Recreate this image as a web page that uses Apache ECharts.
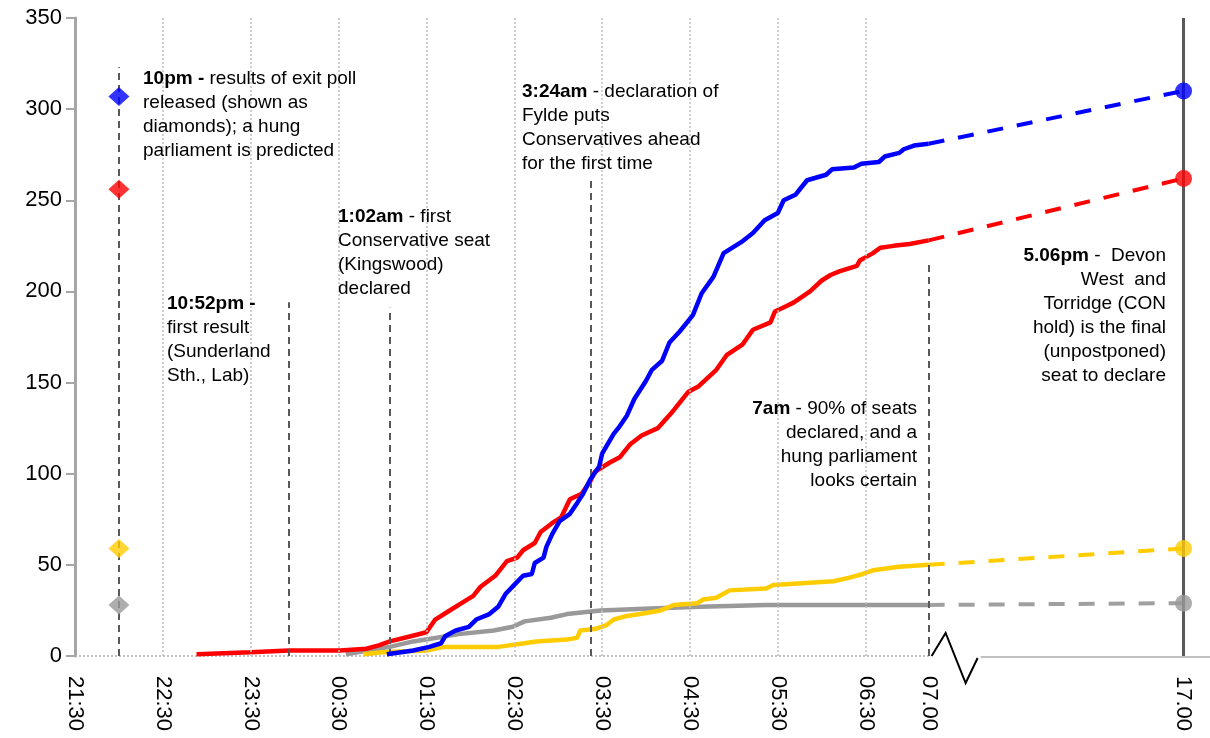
<!DOCTYPE html>
<html>
<head>
<meta charset="utf-8">
<script src="https://cdn.jsdelivr.net/npm/echarts@6/dist/echarts.min.js"></script>
<style>
  html, body { margin: 0; padding: 0; background: #fff; }
  #main { width: 1210px; height: 738px; }
</style>
</head>
<body>
<div id="main"></div>
<script>
// cumulative seats declared on election night
const conTimes = ['01:03','01:21','01:32','01:40','01:43','01:50','01:59','02:04','02:13','02:19','02:24','02:30','02:36','02:42','02:44','02:50','02:52','02:56','03:01','03:08','03:13','03:17','03:22','03:28','03:30','03:38','03:42','03:47','03:52','04:00','04:04','04:11','04:16','04:23','04:32','04:38','04:46','04:53','05:05','05:13','05:21','05:30','05:34','05:42','05:46','05:50','06:03','06:07','06:22','06:27','06:39','06:43','06:53','06:56','07:03','07:13'];
const conSeats = [1,3,5,7,11,14,16,20,23,27,34,39,44,45,51,54,60,67,74,78,84,89,97,104,111,122,126,132,141,151,157,162,172,178,187,199,208,221,227,232,239,243,250,253,257,261,264,267,268,270,271,274,276,278,280,281];

const labTimes = ['22:53','23:30','23:56','00:31','00:49','00:58','01:05','01:20','01:30','01:36','01:44','01:54','02:02','02:07','02:17','02:25','02:32','02:36','02:44','02:48','02:56','03:02','03:08','03:16','03:22','03:25','03:35','03:42','03:49','03:57','04:08','04:17','04:29','04:36','04:48','04:55','05:06','05:13','05:25','05:28','05:36','05:41','05:52','06:00','06:06','06:12','06:24','06:26','06:35','06:40','06:49','07:00','07:13'];
const labSeats = [1,2,3,3,4,6,8,11,13,20,24,29,33,38,44,52,54,58,62,68,73,76,86,89,96,101,106,109,116,121,125,133,145,148,157,165,171,179,183,189,192,194,200,206,209,211,214,217,221,224,225,226,228];

const ldTimes = ['00:47','01:00','01:30','01:42','02:19','02:37','02:45','03:06','03:13','03:15','03:26','03:33','03:38','03:47','03:56','04:10','04:19','04:35','04:39','04:48','04:57','05:22','05:27','06:08','06:19','06:28','06:35','06:53','07:13'];
const ldSeats = [1,2,3,5,5,7,8,9,10,14,15,17,20,22,23,25,28,29,31,32,36,37,39,41,43,45,47,49,50];

const othTimes = ['00:35','00:50','01:05','01:21','01:37','01:52','02:16','02:29','02:37','02:55','03:06','03:29','04:03','04:37','05:22','07:13'];
const othSeats = [1,3,5,8,10,12,14,16,19,21,23,25,26,27,28,28];

// exit poll (10pm) and final tally (17:00), order: Con, Lab, LD, Other
const partyColors = ['#0000ff', '#ff0000', '#ffcc00', '#999999'];
const exitPoll = [307, 256, 59, 28];
const finalSeats = [310, 262, 59, 29];

// x axis
const tickTimes = ['21:30','22:30','23:30','00:30','01:30','02:30','03:30','04:30','05:30','06:30','07:13','17:00'];
const tickLabels = ['21:30','22:30','23:30','00:30','01:30','02:30','03:30','04:30','05:30','06:30','07.00','17.00'];
const gridTimes = ['22:30','23:30','00:30','01:30','02:30','03:30','04:30','05:30','06:30'];

// annotation lines (time, top in seats)
const eventTimes = ['22:00','23:56','01:05','03:22','07:13'];
const eventTops = [323, 194, 191, 261, 215];

const EXIT_TIME = '22:00';
const BREAK_TIME = '07:13';
const FINAL_TIME = '17:00';
const LATE_SCALE = 0.2966; // squeeze of the axis after the break

function minutes(t) {
  const [h, m] = t.split(':').map(Number);
  return ((h * 60 + m) - (21 * 60 + 30) + 1440) % 1440;
}
const BREAK = minutes(BREAK_TIME);
function xPos(t) {
  const m = minutes(t);
  return m <= BREAK ? m : BREAK + (m - BREAK) * LATE_SCALE;
}
function toPoints(times, seats) {
  return times.map((t, i) => [xPos(t), seats[i]]);
}

const FONT = '"Liberation Sans", Arial, sans-serif';
const partyTimes = [conTimes, labTimes, ldTimes, othTimes];
const partySeats = [conSeats, labSeats, ldSeats, othSeats];

const series = [];

// grid lines, event lines, 17:00 line
series.push({
  type: 'line',
  data: [],
  silent: true,
  markLine: {
    silent: true,
    symbol: 'none',
    label: { show: false },
    animation: false,
    data: gridTimes.map(t => ({
      xAxis: xPos(t),
      lineStyle: { color: '#c0c0c0', width: 1.5, type: [2, 2] }
    }))
      .concat(eventTimes.map((t, i) => [
        { coord: [xPos(t), 0], lineStyle: { color: '#595959', width: 2, type: [7, 5] } },
        { coord: [xPos(t), eventTops[i]] }
      ]))
      .concat([[
        { coord: [xPos(FINAL_TIME), 0], lineStyle: { color: '#595959', width: 3, type: 'solid' } },
        { coord: [xPos(FINAL_TIME), 350] }
      ]])
  },
  z: 1
});

partyTimes.forEach((times, i) => {
  const seats = partySeats[i];
  series.push({
    type: 'line',
    data: toPoints(times, seats),
    showSymbol: false,
    lineStyle: { color: partyColors[i], width: 4.5 },
    z: 5 - i * 0.1
  });
  series.push({
    type: 'line',
    data: [[xPos(BREAK_TIME), seats[seats.length - 1]], [xPos(FINAL_TIME), finalSeats[i]]],
    showSymbol: false,
    lineStyle: { color: i === 3 ? '#a0a0a0' : partyColors[i], width: 4, type: [16, 14] },
    z: 4
  });
});

series.push({
  type: 'scatter',
  symbol: 'diamond',
  symbolSize: [21, 19],
  data: exitPoll.map((v, i) => ({ value: [xPos(EXIT_TIME), v], itemStyle: { color: partyColors[i] } })),
  z: 6
});
series.push({
  type: 'scatter',
  symbol: 'circle',
  symbolSize: 17,
  data: finalSeats.map((v, i) => ({ value: [xPos(FINAL_TIME), v], itemStyle: { color: partyColors[i] } })),
  z: 6
});

const customX = tickTimes.map(xPos);

const option = {
  backgroundColor: '#fff',
  animation: false,
  grid: { left: 75, right: 2, top: 18, bottom: 82, containLabel: false },
  xAxis: {
    type: 'value',
    min: 0,
    max: 773.8,
    axisLine: { show: false },
    axisTick: { show: false },
    splitLine: { show: false },
    axisLabel: {
      customValues: customX,
      rotate: -90,
      margin: 20,
      fontSize: 22,
      fontFamily: FONT,
      color: '#000',
      formatter: v => {
        const idx = customX.findIndex(c => Math.abs(c - v) < 0.5);
        return idx >= 0 ? tickLabels[idx] : '';
      }
    }
  },
  yAxis: {
    type: 'value',
    min: 0,
    max: 350,
    interval: 50,
    axisLine: { show: true, lineStyle: { color: '#a6a6a6', width: 3 } },
    axisTick: { show: true, length: 9, lineStyle: { color: '#a6a6a6', width: 2 } },
    splitLine: { show: false },
    axisLabel: { fontSize: 22, fontFamily: FONT, color: '#000', margin: 13 }
  },
  series: series
};

const chart = echarts.init(document.getElementById('main'));
chart.setOption(option);

// axis base: dotted up to the break, zigzag, then solid line
const p0 = chart.convertToPixel({ gridIndex: 0 }, [0, 0]);
const pb = chart.convertToPixel({ gridIndex: 0 }, [xPos(BREAK_TIME), 0]);

const rich = { b: { fontWeight: 'bold', fontSize: 19, fontFamily: FONT, lineHeight: 24, fill: '#000' } };
function note(x, y, text, align) {
  return {
    type: 'text',
    x: x,
    y: y,
    z: 10,
    style: {
      text: text,
      rich: rich,
      align: align || 'left',
      verticalAlign: 'top',
      fontSize: 19,
      lineHeight: 24,
      fontFamily: FONT,
      fill: '#000'
    }
  };
}

chart.setOption({
  graphic: [
    {
      type: 'line',
      shape: { x1: p0[0], y1: p0[1], x2: pb[0], y2: pb[1] },
      style: { stroke: '#b0b0b0', lineWidth: 1.5, lineDash: [2, 2] },
      z: 2
    },
    {
      type: 'polyline',
      shape: { points: [[pb[0] + 3, pb[1]], [pb[0] + 17, pb[1] - 23], [pb[0] + 37, pb[1] + 27], [pb[0] + 49, pb[1] + 2]] },
      style: { stroke: '#000', lineWidth: 2, fill: null },
      z: 2
    },
    {
      type: 'line',
      shape: { x1: pb[0] + 52, y1: pb[1] + 1, x2: 1210, y2: pb[1] + 1 },
      style: { stroke: '#c0c0c0', lineWidth: 2 },
      z: 2
    },
    note(143, 67, '{b|10pm -} results of exit poll\nreleased (shown as\ndiamonds); a hung\nparliament is predicted'),
    note(167, 292, '{b|10:52pm -}\nfirst result\n(Sunderland\nSth., Lab)'),
    note(338, 205, '{b|1:02am} - first\nConservative seat\n(Kingswood)\ndeclared'),
    note(522, 80, '{b|3:24am} - declaration of\nFylde puts\nConservatives ahead\nfor the first time'),
    note(917, 397, '{b|7am} - 90% of seats\ndeclared, and a\nhung parliament\nlooks certain', 'right'),
    note(1166, 244, '{b|5.06pm} -  Devon\nWest  and\nTorridge (CON\nhold) is the final\n(unpostponed)\nseat to declare', 'right')
  ]
});
</script>
</body>
</html>
